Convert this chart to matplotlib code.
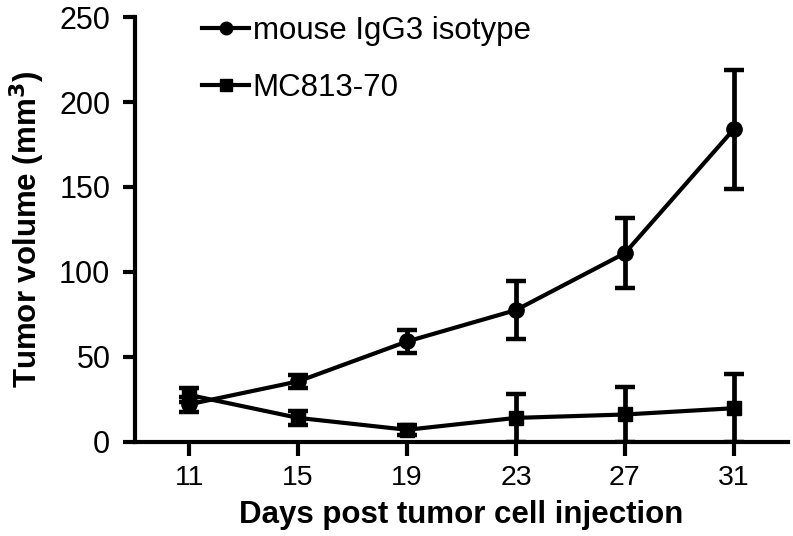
import numpy as np
import matplotlib
matplotlib.use('Agg')
import matplotlib.pyplot as plt
from matplotlib.lines import Line2D

plt.rcParams['font.family'] = ['Liberation Sans', 'DejaVu Sans']

# data
days = [11, 15, 19, 23, 27, 31]
igg3_mean = [22, 35.5, 59, 77.5, 111, 184]
igg3_err = [4.5, 4, 7, 17.3, 20.5, 35]
mc813_mean = [27.5, 14, 7, 14, 16, 19.7]
mc813_err = [4, 4, 3, 14, 16, 20]
x_ticks = [11, 15, 19, 23, 27, 31]
y_ticks = [0, 50, 100, 150, 200, 250]
labels = ['mouse IgG3 isotype', 'MC813-70']

fig = plt.figure(figsize=(7.93, 5.36), dpi=100)
ax = fig.add_axes([0.170, 0.176, 0.824, 0.792])

ax.errorbar(days, igg3_mean, yerr=igg3_err, color='black', lw=3,
            marker='o', ms=11, elinewidth=3.4, capsize=7, capthick=3.2)
ax.errorbar(days, mc813_mean, yerr=mc813_err, color='black', lw=3,
            marker='s', ms=10, elinewidth=3.4, capsize=7, capthick=3.2)

ax.set_xlim(9, 33)
ax.set_ylim(0, 250)
ax.set_xticks(x_ticks)
ax.set_yticks(y_ticks)

for s in ['top', 'right']:
    ax.spines[s].set_visible(False)
for s in ['left', 'bottom']:
    ax.spines[s].set_linewidth(3)
    ax.spines[s].set_zorder(5)
ax.tick_params(axis='y', length=8.6, width=3, pad=9, labelsize=22)
ax.tick_params(axis='x', length=10, width=3, pad=7, labelsize=20.5)

ax.set_xlabel('Days post tumor cell injection', fontsize=22.5,
              fontweight='bold', labelpad=6)
ax.set_ylabel('Tumor volume (mm$^\\mathbf{3}$)', fontsize=22.5,
              fontweight='bold', labelpad=9)

handles = [Line2D([], [], color='black', lw=3, marker='o', ms=9),
           Line2D([], [], color='black', lw=3, marker='s', ms=8)]
ax.legend(handles, labels, loc='upper left', bbox_to_anchor=(0.06, 1.068),
          frameon=False, fontsize=22.5, handlelength=1.5, handletextpad=0.12,
          labelspacing=0.85)

fig.savefig('out.png', dpi=100)
